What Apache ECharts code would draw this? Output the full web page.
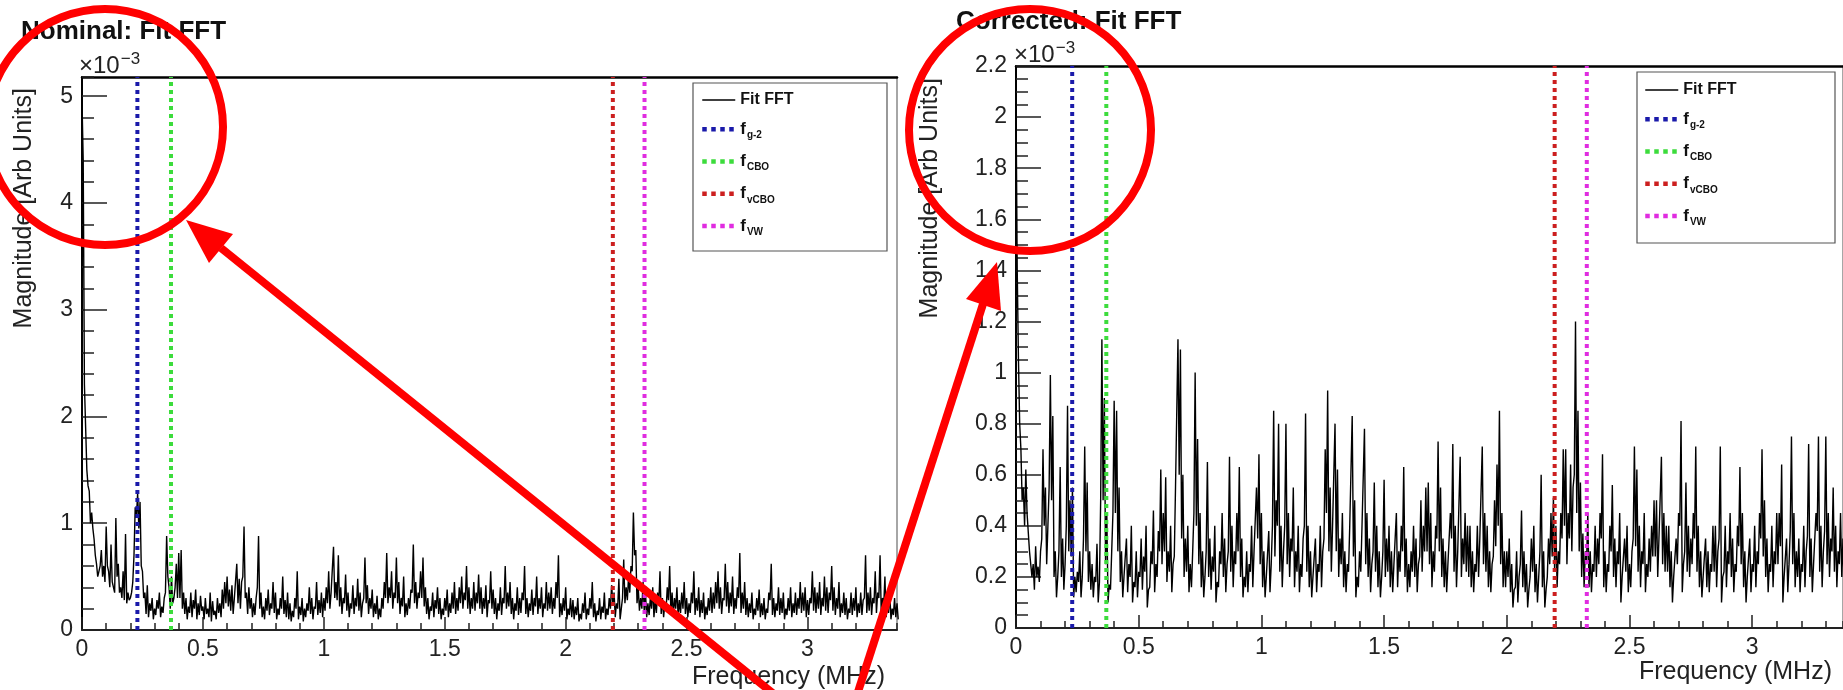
<!DOCTYPE html>
<html>
<head>
<meta charset="utf-8">
<title>Fit FFT</title>
<script src="https://cdn.jsdelivr.net/npm/echarts@6/dist/echarts.min.js"></script>
<style>
    html, body { margin: 0; padding: 0; background: #fff; }
    #chart { width: 1843px; height: 690px; }
</style>
</head>
<body>
<div id="chart"></div>
<script>
// FFT bins (MHz); each bin has a peak value at its start and a trough value half a bin later.
// Magnitudes are in units of 1e-3.
var binWidth = 0.01;
var freqMax = 3.37;

var nominalPeaks = [
    4.95,2.3,1.5,1.3,1.1,0.85,0.62,0.55,0.75,0.6,0.97,0.55,0.8,0.45,1.05,0.62,0.4,0.55,0.9,0.35,
    0.3,0.45,1.15,1.28,1.2,0.55,0.35,0.42,0.25,0.3,0.2,0.28,0.35,0.22,0.3,0.88,0.4,0.5,0.3,0.62,
    0.72,0.75,0.35,0.3,0.22,0.35,0.28,0.38,0.25,0.32,0.22,0.3,0.2,0.35,0.27,0.18,0.3,0.25,0.38,0.45,
    0.5,0.38,0.42,0.3,0.62,0.48,0.45,0.97,0.35,0.4,0.3,0.25,0.3,0.88,0.35,0.22,0.3,0.38,0.25,0.45,
    0.35,0.2,0.3,0.5,0.28,0.35,0.25,0.18,0.3,0.55,0.22,0.3,0.2,0.25,0.4,0.3,0.22,0.45,0.28,0.35,
    0.3,0.4,0.55,0.35,0.78,0.45,0.7,0.4,0.3,0.52,0.35,0.25,0.42,0.3,0.48,0.35,0.25,0.68,0.42,0.3,
    0.38,0.25,0.32,0.2,0.3,0.45,0.72,0.4,0.55,0.35,0.68,0.45,0.3,0.5,0.25,0.3,0.38,0.8,0.45,0.35,
    0.55,0.68,0.4,0.3,0.22,0.35,0.28,0.4,0.3,0.2,0.3,0.38,0.25,0.35,0.45,0.3,0.4,0.5,0.35,0.6,
    0.4,0.3,0.45,0.35,0.52,0.4,0.3,0.42,0.28,0.55,0.38,0.3,0.25,0.4,0.3,0.6,0.35,0.45,0.3,0.25,
    0.4,0.3,0.35,0.6,0.3,0.25,0.38,0.3,0.5,0.3,0.4,0.25,0.45,0.35,0.4,0.3,0.45,0.7,0.25,0.3,
    0.4,0.2,0.3,0.28,0.22,0.3,0.15,0.25,0.35,0.2,0.3,0.45,0.25,0.18,0.3,0.22,0.35,0.2,0.3,0.42,
    0.35,0.25,0.48,0.2,0.66,0.4,0.5,0.6,1.1,0.75,0.4,0.3,0.45,0.35,0.25,0.3,0.4,0.28,0.35,0.55,
    0.3,0.25,0.4,0.6,0.35,0.3,0.4,0.28,0.35,0.45,0.3,0.25,0.35,0.55,0.3,0.4,0.28,0.35,0.22,0.3,
    0.4,0.35,0.45,0.55,0.4,0.3,0.62,0.45,0.35,0.5,0.3,0.4,0.72,0.35,0.45,0.3,0.25,0.35,0.2,0.3,
    0.38,0.25,0.3,0.2,0.35,0.62,0.3,0.25,0.4,0.3,0.35,0.2,0.3,0.4,0.25,0.35,0.3,0.45,0.35,0.4,
    0.28,0.3,0.55,0.4,0.35,0.45,0.3,0.5,0.4,0.35,0.6,0.4,0.3,0.45,0.25,0.35,0.3,0.2,0.35,0.3,
    0.4,0.25,0.35,0.28,0.7,0.35,0.4,0.3,0.55,0.35,0.7,0.3,0.5,0.25,0.35,0.2,0.3,0.25
];
var nominalTroughs = [
    4.4,1.9,1.35,1.0,0.95,0.7,0.5,0.6,0.5,0.45,0.6,0.4,0.45,0.35,0.5,0.35,0.3,0.28,0.25,0.28,
    0.35,0.7,1.05,0.95,0.6,0.3,0.15,0.12,0.18,0.1,0.14,0.2,0.12,0.16,0.35,0.5,0.2,0.25,0.4,0.3,
    0.3,0.2,0.15,0.1,0.16,0.12,0.2,0.1,0.14,0.18,0.1,0.15,0.12,0.08,0.14,0.1,0.16,0.12,0.2,0.25,
    0.22,0.18,0.15,0.3,0.25,0.2,0.5,0.3,0.15,0.2,0.12,0.14,0.4,0.2,0.12,0.1,0.18,0.14,0.2,0.16,
    0.1,0.14,0.2,0.15,0.12,0.1,0.08,0.12,0.2,0.1,0.14,0.08,0.12,0.18,0.15,0.1,0.2,0.14,0.16,0.12,
    0.18,0.25,0.2,0.35,0.3,0.28,0.22,0.15,0.25,0.18,0.12,0.2,0.15,0.22,0.18,0.12,0.3,0.25,0.15,0.2,
    0.12,0.15,0.1,0.12,0.2,0.3,0.25,0.3,0.2,0.3,0.25,0.15,0.22,0.12,0.14,0.2,0.35,0.25,0.2,0.3,
    0.3,0.22,0.15,0.1,0.18,0.12,0.2,0.15,0.1,0.14,0.18,0.12,0.16,0.2,0.15,0.18,0.25,0.2,0.28,0.2,
    0.15,0.2,0.18,0.25,0.2,0.15,0.2,0.12,0.25,0.2,0.15,0.1,0.18,0.14,0.25,0.2,0.22,0.15,0.1,0.18,
    0.14,0.16,0.28,0.15,0.12,0.18,0.14,0.22,0.15,0.2,0.12,0.2,0.18,0.2,0.15,0.2,0.3,0.12,0.14,0.18,
    0.1,0.14,0.12,0.1,0.14,0.08,0.1,0.16,0.1,0.14,0.2,0.12,0.08,0.14,0.1,0.16,0.1,0.14,0.2,0.25,
    0.12,0.2,0.1,0.3,0.25,0.28,0.35,0.55,0.7,0.25,0.18,0.2,0.16,0.12,0.14,0.2,0.12,0.16,0.25,0.15,
    0.12,0.18,0.28,0.16,0.14,0.2,0.12,0.16,0.2,0.15,0.12,0.16,0.25,0.14,0.18,0.12,0.16,0.1,0.14,0.18,
    0.16,0.2,0.25,0.2,0.15,0.28,0.22,0.16,0.22,0.15,0.2,0.3,0.16,0.2,0.14,0.12,0.16,0.1,0.14,0.18,
    0.12,0.14,0.1,0.16,0.28,0.14,0.12,0.18,0.14,0.16,0.1,0.14,0.18,0.12,0.16,0.14,0.2,0.16,0.18,0.12,
    0.14,0.25,0.18,0.16,0.2,0.14,0.22,0.18,0.16,0.28,0.18,0.14,0.2,0.12,0.16,0.14,0.1,0.16,0.14,0.18,
    0.12,0.16,0.14,0.3,0.16,0.18,0.14,0.25,0.16,0.3,0.14,0.22,0.12,0.16,0.1,0.14,0.12,0.1
];

var correctedPeaks = [
    2.08,1.05,0.7,0.55,0.62,0.45,0.3,0.25,0.32,0.24,0.3,0.7,0.55,0.4,0.99,0.83,0.3,0.2,0.63,0.35,
    0.25,0.87,0.5,0.55,0.2,0.22,0.3,0.2,0.71,0.57,0.3,0.25,0.2,0.33,0.18,1.13,0.9,0.45,0.17,0.3,
    0.89,0.85,0.55,0.3,0.2,0.35,0.25,0.4,0.18,0.3,0.22,0.35,0.28,0.4,0.15,0.3,0.46,0.25,0.38,0.62,
    0.45,0.59,0.3,0.4,0.25,0.55,1.13,1.09,0.6,0.35,0.4,0.25,0.3,1.0,0.74,0.45,0.3,0.2,0.65,0.35,
    0.28,0.4,0.18,0.3,0.45,0.35,0.25,0.67,0.4,0.3,0.45,0.63,0.35,0.2,0.3,0.25,0.4,0.3,0.55,0.68,
    0.45,0.3,0.2,0.38,0.25,0.85,0.5,0.8,0.4,0.3,0.8,0.45,0.35,0.55,0.3,0.4,0.25,0.35,0.84,0.4,
    0.3,0.2,0.35,0.25,0.4,0.3,0.7,0.93,0.55,0.4,0.8,0.62,0.35,0.45,0.3,0.25,0.4,0.83,0.5,0.2,
    0.3,0.4,0.78,0.45,0.35,0.25,0.57,0.4,0.3,0.2,0.58,0.35,0.4,0.3,0.25,0.45,0.3,0.4,0.63,0.35,
    0.25,0.3,0.4,0.35,0.25,0.5,0.4,0.55,0.57,0.45,0.3,0.4,0.73,0.55,0.35,0.3,0.25,0.45,0.72,0.4,
    0.3,0.67,0.35,0.45,0.4,0.4,0.3,0.25,0.4,0.35,0.71,0.45,0.4,0.3,0.25,0.5,0.64,0.85,0.45,0.3,
    0.3,0.35,0.25,0.15,0.3,0.2,0.46,0.3,0.25,0.15,0.35,0.4,0.25,0.2,0.6,0.3,0.15,0.35,0.45,0.51,
    0.4,0.3,0.45,0.7,0.7,0.45,0.64,0.55,1.2,0.85,0.57,0.37,0.3,0.45,0.3,0.25,0.4,0.35,0.45,0.68,
    0.3,0.25,0.4,0.56,0.35,0.3,0.45,0.2,0.35,0.4,0.25,0.3,0.71,0.62,0.4,0.3,0.45,0.25,0.35,0.4,
    0.5,0.5,0.35,0.67,0.45,0.4,0.4,0.3,0.2,0.35,0.45,0.81,0.25,0.57,0.4,0.35,0.45,0.71,0.4,0.3,
    0.2,0.35,0.3,0.25,0.4,0.4,0.3,0.71,0.2,0.4,0.3,0.45,0.35,0.25,0.4,0.63,0.45,0.3,0.2,0.35,
    0.25,0.4,0.3,0.45,0.7,0.5,0.35,0.25,0.4,0.3,0.45,0.45,0.64,0.2,0.35,0.25,0.75,0.45,0.3,0.35,
    0.25,0.4,0.3,0.72,0.35,0.25,0.45,0.75,0.4,0.3,0.75,0.45,0.35,0.55,0.4,0.3,0.45,0.35
];
var correctedTroughs = [
    1.4,0.8,0.5,0.4,0.45,0.3,0.2,0.15,0.2,0.18,0.35,0.4,0.25,0.55,0.5,0.2,0.12,0.3,0.2,0.15,
    0.4,0.3,0.28,0.12,0.14,0.18,0.12,0.35,0.3,0.18,0.15,0.12,0.18,0.1,0.5,0.5,0.25,0.1,0.15,0.45,
    0.45,0.3,0.18,0.12,0.2,0.14,0.2,0.1,0.16,0.12,0.2,0.15,0.22,0.08,0.16,0.25,0.14,0.2,0.3,0.25,
    0.3,0.18,0.22,0.14,0.28,0.55,0.6,0.35,0.2,0.22,0.14,0.16,0.45,0.4,0.25,0.16,0.12,0.3,0.2,0.15,
    0.22,0.1,0.16,0.25,0.2,0.14,0.3,0.22,0.16,0.25,0.3,0.2,0.12,0.16,0.14,0.22,0.16,0.3,0.35,0.25,
    0.16,0.12,0.2,0.14,0.4,0.28,0.4,0.22,0.16,0.4,0.25,0.2,0.3,0.16,0.22,0.14,0.2,0.4,0.22,0.16,
    0.12,0.2,0.14,0.22,0.16,0.35,0.45,0.3,0.22,0.4,0.3,0.2,0.25,0.16,0.14,0.22,0.4,0.28,0.12,0.16,
    0.22,0.4,0.25,0.2,0.14,0.3,0.22,0.16,0.12,0.3,0.2,0.22,0.16,0.14,0.25,0.16,0.22,0.3,0.2,0.14,
    0.16,0.22,0.2,0.14,0.28,0.22,0.3,0.3,0.25,0.16,0.22,0.35,0.3,0.2,0.16,0.14,0.25,0.35,0.22,0.16,
    0.3,0.2,0.25,0.22,0.2,0.16,0.14,0.22,0.2,0.35,0.25,0.22,0.16,0.14,0.28,0.32,0.4,0.25,0.16,0.16,
    0.2,0.14,0.08,0.16,0.1,0.25,0.16,0.14,0.08,0.2,0.22,0.14,0.1,0.3,0.16,0.08,0.2,0.25,0.28,0.22,
    0.16,0.25,0.35,0.4,0.25,0.35,0.3,0.6,0.45,0.3,0.2,0.16,0.25,0.16,0.14,0.22,0.2,0.25,0.35,0.16,
    0.14,0.22,0.3,0.2,0.16,0.25,0.1,0.2,0.22,0.14,0.16,0.35,0.32,0.22,0.16,0.25,0.14,0.2,0.22,0.28,
    0.28,0.2,0.35,0.25,0.22,0.22,0.16,0.1,0.2,0.25,0.4,0.14,0.3,0.22,0.2,0.25,0.35,0.22,0.16,0.12,
    0.2,0.16,0.14,0.22,0.22,0.16,0.35,0.1,0.22,0.16,0.25,0.2,0.14,0.22,0.32,0.25,0.16,0.1,0.2,0.14,
    0.22,0.16,0.25,0.35,0.28,0.2,0.14,0.22,0.16,0.25,0.25,0.32,0.1,0.2,0.14,0.38,0.25,0.16,0.2,0.14,
    0.22,0.16,0.36,0.2,0.14,0.25,0.38,0.22,0.16,0.38,0.25,0.2,0.3,0.22,0.16,0.25,0.2,0.15
];

// reference frequencies (MHz) drawn as dotted lines
var markerNames = ['f_g-2', 'f_CBO', 'f_vCBO', 'f_VW'];
var markerFreqs = [0.229, 0.368, 2.195, 2.326];
var markerColors = ['#1a1aaa', '#3cdc3c', '#cc1f1f', '#e02ce0'];

var nominalMax = 5.18;
var correctedMax = 2.2;

var FONT = '"Liberation Sans", Arial, Helvetica, sans-serif';

function toPoints(peaks, troughs) {
    var pts = [];
    peaks.forEach(function (v, i) {
        pts.push([i * binWidth, v]);
        pts.push([i * binWidth + binWidth / 2, troughs[i]]);
    });
    return pts;
}

function xAxes(gi) {
    var base = { gridIndex: gi, type: 'value', min: 0, max: freqMax, splitLine: { show: false } };
    return [
        Object.assign({}, base, {
            position: 'bottom', interval: 0.5,
            axisLine: { onZero: false, lineStyle: { color: '#222', width: 2 } },
            axisTick: { inside: true, length: 13, lineStyle: { color: '#222', width: 1.5 } },
            axisLabel: { margin: 8, fontSize: 23, color: '#222', fontFamily: FONT, showMaxLabel: false }
        }),
        Object.assign({}, base, {
            position: 'bottom', interval: 0.1,
            axisLine: { show: false, onZero: false },
            axisTick: { inside: true, length: 7, lineStyle: { color: '#222', width: 1.5 } },
            axisLabel: { show: false }
        }),
        Object.assign({}, base, {
            position: 'top',
            axisLine: { onZero: false, lineStyle: { color: '#000', width: 2.5 } },
            axisTick: { show: false },
            axisLabel: { show: false }
        })
    ];
}

function yAxes(gi, ymax, major, minor, showMax) {
    var base = { gridIndex: gi, type: 'value', min: 0, max: ymax, splitLine: { show: false } };
    return [
        Object.assign({}, base, {
            position: 'left', interval: major,
            axisLine: { onZero: false, lineStyle: { color: '#000', width: 2 } },
            axisTick: { inside: true, length: 25, lineStyle: { color: '#222', width: 1.5 } },
            axisLabel: { margin: 9, fontSize: 23, color: '#222', fontFamily: FONT, showMaxLabel: showMax }
        }),
        Object.assign({}, base, {
            position: 'left', interval: minor,
            axisLine: { show: false, onZero: false },
            axisTick: { inside: true, length: 12, lineStyle: { color: '#222', width: 1.5 } },
            axisLabel: { show: false }
        }),
        Object.assign({}, base, {
            position: 'right',
            axisLine: { onZero: false, lineStyle: { color: '#888', width: 1.5 } },
            axisTick: { show: false },
            axisLabel: { show: false }
        })
    ];
}

function chartSeries(peaks, troughs, axisIndex, ymax) {
    var list = [{
        name: 'Fit FFT', type: 'line', symbol: 'none',
        xAxisIndex: axisIndex, yAxisIndex: axisIndex,
        data: toPoints(peaks, troughs),
        lineStyle: { color: '#000', width: 1.4 }, itemStyle: { color: '#000' }
    }];
    markerNames.forEach(function (name, k) {
        list.push({
            name: name, type: 'line', symbol: 'none', z: 3,
            xAxisIndex: axisIndex, yAxisIndex: axisIndex,
            data: [[markerFreqs[k], 0], [markerFreqs[k], ymax]],
            lineStyle: { color: markerColors[k], width: 4, type: [4, 4] },
            itemStyle: { color: markerColors[k] }
        });
    });
    return list;
}

function makeLegend(left, top) {
    var items = [{ name: 'Fit FFT', lineStyle: { color: '#000', width: 1.5, type: 'solid' } }];
    markerNames.forEach(function (name, k) {
        items.push({ name: name, lineStyle: { color: markerColors[k], width: 4.5, type: [4.5, 4.5] } });
    });
    return {
        left: left, top: top, orient: 'vertical', padding: 0,
        itemWidth: 33, itemHeight: 20, itemGap: 12.75, selectedMode: false,
        itemStyle: { opacity: 0 },
        data: items,
        formatter: function (name) {
            if (name.indexOf('f_') === 0) return '{f|f}{s|' + name.slice(2) + '}';
            return '{b|' + name + '}';
        },
        textStyle: {
            fontFamily: FONT, color: '#111', fontWeight: 'bold', fontSize: 15,
            rich: {
                b: { fontFamily: FONT, fontSize: 16, fontWeight: 'bold', color: '#111' },
                f: { fontFamily: FONT, fontSize: 17, fontWeight: 'bold', color: '#111', verticalAlign: 'middle' },
                s: { fontFamily: FONT, fontSize: 10, fontWeight: 'bold', color: '#111', verticalAlign: 'middle', padding: [12, 0, 0, 1] }
            }
        }
    };
}

function sciLabel(x, y) {
    return {
        type: 'text', left: x, top: y,
        style: {
            text: '×10{sup|−3}', fontFamily: FONT, fontSize: 24, fill: '#222',
            rich: { sup: { fontFamily: FONT, fontSize: 17, fill: '#222', verticalAlign: 'middle', padding: [0, 0, 14, 1] } }
        }
    };
}

function axisName(text, x, y, rotated) {
    return {
        type: 'text', x: x, y: y, rotation: rotated ? Math.PI / 2 : 0,
        style: { text: text, fontFamily: FONT, fontSize: 25, fill: '#222', align: 'right', verticalAlign: 'middle' }
    };
}

var red = '#ff0000';
var annotations = [
    { type: 'circle', z: 100, shape: { cx: 105, cy: 127, r: 118 }, style: { fill: null, stroke: red, lineWidth: 8 } },
    { type: 'circle', z: 100, shape: { cx: 1030, cy: 130, r: 121 }, style: { fill: null, stroke: red, lineWidth: 8 } },
    { type: 'line', z: 100, shape: { x1: 775, y1: 695, x2: 221, y2: 248 }, style: { stroke: red, lineWidth: 8 } },
    { type: 'polygon', z: 100, shape: { points: [[186, 220], [233, 234], [209, 263]] }, style: { fill: red } },
    { type: 'line', z: 100, shape: { x1: 857, y1: 695, x2: 983, y2: 304 }, style: { stroke: red, lineWidth: 8 } },
    { type: 'polygon', z: 100, shape: { points: [[997, 262], [1001, 311], [966, 299]] }, style: { fill: red } }
];

var chart = echarts.init(document.getElementById('chart'));
chart.setOption({
    backgroundColor: '#fff',
    animation: false,
    title: [
        { text: 'Nominal: Fit FFT', left: 16, top: 14, textStyle: { fontFamily: FONT, fontSize: 26, fontWeight: 'bold', color: '#111' } },
        { text: 'Corrected: Fit FFT', left: 951, top: 4, textStyle: { fontFamily: FONT, fontSize: 26, fontWeight: 'bold', color: '#111' } }
    ],
    grid: [
        { left: 82, top: 77, width: 815, height: 553 },
        { left: 1016, top: 66, width: 827, height: 562 }
    ],
    xAxis: xAxes(0).concat(xAxes(1)),
    yAxis: yAxes(0, nominalMax, 1, 0.2, false).concat(yAxes(1, correctedMax, 0.2, 0.05, true)),
    legend: [makeLegend(700, 92), makeLegend(1643, 82)],
    series: chartSeries(nominalPeaks, nominalTroughs, 0, nominalMax)
        .concat(chartSeries(correctedPeaks, correctedTroughs, 3, correctedMax)),
    graphic: [
        { type: 'rect', shape: { x: 693, y: 83, width: 194, height: 168 }, style: { fill: null, stroke: '#555', lineWidth: 1.2 } },
        { type: 'rect', shape: { x: 1637, y: 72, width: 198, height: 171 }, style: { fill: null, stroke: '#555', lineWidth: 1.2 } },
        sciLabel(79, 51),
        sciLabel(1014, 40),
        axisName('Magnitude [Arb Units]', 24, 88, true),
        axisName('Magnitude [Arb Units]', 930, 78, true),
        axisName('Frequency (MHz)', 885, 677, false),
        axisName('Frequency (MHz)', 1832, 672, false)
    ].concat(annotations)
});
</script>
</body>
</html>
